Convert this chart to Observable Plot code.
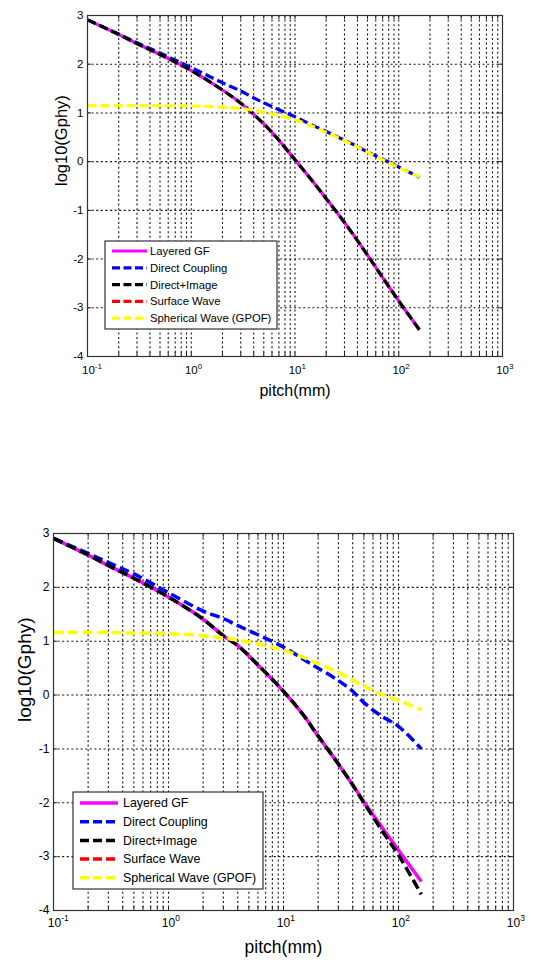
<!DOCTYPE html>
<html>
<head>
<meta charset="utf-8">
<script src="https://cdn.jsdelivr.net/npm/d3@7"></script>
<script src="https://cdn.jsdelivr.net/npm/@observablehq/plot@0.6"></script>
<style>
  html, body { margin:0; padding:0; background:#fff; }
  body { width:537px; height:960px; position:relative; overflow:hidden; font-family:"Liberation Sans", Arial, sans-serif; }
  .panel { position:absolute; left:0; }
</style>
</head>
<body>
<div id="top" class="panel" style="top:0px"></div>
<div id="bottom" class="panel" style="top:450px"></div>
<script>
// ---------------- data ----------------
const seriesNames  = ["Layered GF", "Direct Coupling", "Direct+Image", "Surface Wave", "Spherical Wave (GPOF)"];
const seriesColors = ["#ff00ff", "#0000ff", "#000000", "#ff0000", "#ffff00"];
const seriesDashed = [false, true, true, true, true];

const xTickValues    = [0.1, 1, 10, 100, 1000];
const xTickExponents = ["-1", "0", "1", "2", "3"];
const yTickValues    = [3, 2, 1, 0, -1, -2, -3, -4];

const xLabel = "pitch(mm)";
const yLabel = "log10(Gphy)";

// pitch (mm) sample points shared by all curves
const pitch = [0.1, 0.2, 0.316, 0.5, 1, 2, 3, 4, 6, 10, 15, 20, 30, 40, 50, 70, 100, 158];

// upper figure
const topLayeredGF   = [2.91, 2.61, 2.40, 2.20, 1.87, 1.47, 1.20, 0.97, 0.60, 0.04, -0.42, -0.76, -1.25, -1.62, -1.92, -2.38, -2.86, -3.45];
const topDirect      = [2.91, 2.62, 2.42, 2.23, 1.93, 1.62, 1.45, 1.31, 1.13, 0.92, 0.74, 0.62, 0.44, 0.31, 0.20, 0.05, -0.11, -0.32];
const topDirectImage = [2.91, 2.61, 2.40, 2.20, 1.87, 1.47, 1.20, 0.97, 0.60, 0.04, -0.42, -0.76, -1.25, -1.62, -1.92, -2.38, -2.86, -3.45];
const topSpherical   = [1.15, 1.15, 1.15, 1.15, 1.14, 1.12, 1.09, 1.05, 0.98, 0.86, 0.72, 0.60, 0.43, 0.30, 0.19, 0.04, -0.12, -0.31];

// lower figure
const botLayeredGF   = [2.91, 2.60, 2.38, 2.17, 1.82, 1.41, 1.10, 0.92, 0.56, 0.07, -0.38, -0.76, -1.28, -1.67, -1.98, -2.42, -2.88, -3.46];
const botDirect      = [2.91, 2.63, 2.44, 2.25, 1.90, 1.56, 1.42, 1.29, 1.12, 0.89, 0.66, 0.50, 0.27, 0.07, -0.14, -0.38, -0.58, -1.00];
const botDirectImage = [2.91, 2.60, 2.38, 2.17, 1.82, 1.41, 1.10, 0.92, 0.56, 0.07, -0.38, -0.76, -1.28, -1.67, -2.00, -2.48, -2.97, -3.70];
const botSpherical   = [1.16, 1.16, 1.16, 1.15, 1.14, 1.10, 1.06, 1.02, 0.95, 0.83, 0.70, 0.58, 0.42, 0.28, 0.17, 0.02, -0.10, -0.27];

// ---------------- drawing ----------------
const FONT = '"Liberation Sans", Arial, Helvetica, sans-serif';

const minorX = [];
for (const d of [0.1, 1, 10, 100]) for (let k = 1; k <= 9; k++) minorX.push(+(d * k).toPrecision(3));
minorX.push(1000);
const innerX = minorX.filter(v => v > 0.1 && v < 1000);
const innerY = yTickValues.filter(v => v > -4 && v < 3);

function makePanel(cfg) {
  const rows = arr => pitch.map((p, i) => ({p, v: arr[i]}));
  const innerW = cfg.width - cfg.marginLeft - cfg.marginRight;
  const innerH = cfg.height - cfg.marginTop - cfg.marginBottom;
  const tY = 4 * 7 / innerH;               // 4px inward tick, in y units
  const tX = Math.pow(10, 4 * 4 / innerW); // 4px inward tick, as log factor
  const line = (arr, i) => Plot.line(rows(arr), {
    x: "p", y: "v", stroke: seriesColors[i], strokeWidth: cfg.lw,
    strokeLinecap: "butt", strokeLinejoin: "round", curve: "catmull-rom",
    strokeDasharray: seriesDashed[i] ? cfg.dash : undefined
  });
  const grid = {stroke: "#111", strokeWidth: 1.1, strokeDasharray: "2,2.6"};
  const plot = Plot.plot({
    width: cfg.width, height: cfg.height,
    marginLeft: cfg.marginLeft, marginRight: cfg.marginRight,
    marginTop: cfg.marginTop, marginBottom: cfg.marginBottom,
    x: {type: "log", domain: [0.1, 1000]},
    y: {domain: [-4, 3]},
    style: {fontFamily: FONT, background: "#fff", color: "#000", overflow: "visible"},
    marks: [
      Plot.ruleX(innerX, grid),
      Plot.ruleY(innerY, grid),
      Plot.ruleX(minorX, {y1: -4, y2: -4 + tY, stroke: "#222"}),
      Plot.ruleX(minorX, {y1: 3, y2: 3 - tY, stroke: "#222"}),
      Plot.ruleY(yTickValues, {x1: 0.1, x2: 0.1 * tX, stroke: "#222"}),
      Plot.ruleY(yTickValues, {x1: 1000, x2: 1000 / tX, stroke: "#222"}),
      line(cfg.layered, 0),
      line(cfg.direct, 1),
      line(cfg.directImage, 2),
      line(cfg.spherical, 4),
      Plot.frame({stroke: "#333", strokeWidth: 1.2}),
      Plot.axisX(xTickValues, {
        anchor: "bottom", tickSize: 0, tickPadding: cfg.xPad, fontSize: cfg.tickFont, label: null,
        tickFormat: d => "10^" + xTickExponents[xTickValues.indexOf(d)]
      }),
      Plot.axisY(yTickValues, {
        anchor: "left", tickSize: 0, tickPadding: cfg.yPad, fontSize: cfg.tickFont, label: null,
        tickFormat: d => String(d)
      }),
      Plot.text([xLabel], {text: d => d, frameAnchor: "bottom", dy: cfg.xLabelDy, fontSize: cfg.xLabelFont, lineAnchor: "middle"}),
      Plot.text([yLabel], {text: d => d, frameAnchor: "left", dx: cfg.yLabelDx, rotate: -90, fontSize: cfg.yLabelFont, lineAnchor: "middle"})
    ]
  });

  // superscript exponents on x tick labels
  d3.select(plot).selectAll('g[aria-label="x-axis tick label"] text').each(function () {
    const t = this.textContent;
    const parts = t.split("^");
    if (parts.length < 2) return;
    const sel = d3.select(this);
    sel.text(null);
    sel.append("tspan").attr("dx", cfg.supSize * 0.28 * parts[1].length).text(parts[0]);
    sel.append("tspan").attr("dy", -cfg.supDy).attr("font-size", cfg.supSize).text(parts[1]);
  });

  // legend box
  const L = cfg.legend;
  const g = d3.select(plot).append("g")
    .attr("font-family", FONT).attr("font-size", L.font).attr("fill", "#000").attr("text-anchor", "start");
  g.append("rect").attr("x", L.x).attr("y", L.y).attr("width", L.w).attr("height", L.h)
    .attr("fill", "#fff").attr("stroke", "#333").attr("stroke-width", 1.2);
  seriesNames.forEach((name, i) => {
    const cy = L.y + L.first + i * L.step;
    g.append("line").attr("x1", L.x + L.s0).attr("x2", L.x + L.s1).attr("y1", cy).attr("y2", cy)
      .attr("stroke", seriesColors[i]).attr("stroke-width", cfg.lw)
      .attr("stroke-dasharray", seriesDashed[i] ? L.dash : null);
    g.append("text").attr("x", L.x + L.tx).attr("y", cy).attr("dy", "0.35em")
      .attr("text-anchor", "start").text(name);
  });

  document.getElementById(cfg.el).appendChild(plot);
}

makePanel({
  el: "top", width: 537, height: 410,
  marginLeft: 87, marginRight: 35, marginTop: 15, marginBottom: 54,
  layered: topLayeredGF, direct: topDirect, directImage: topDirectImage, spherical: topSpherical,
  lw: 3.2, dash: "9,4",
  tickFont: 11.5, xPad: 9, yPad: 4, supSize: 8, supDy: 5,
  xLabelFont: 16, xLabelDy: 34, yLabelFont: 16.5, yLabelDx: -26,
  legend: {x: 105, y: 241, w: 172, h: 88, first: 10, step: 16.8, s0: 7, s1: 42, tx: 45, font: 11.3, dash: "8,3.5"}
});

makePanel({
  el: "bottom", width: 537, height: 510,
  marginLeft: 53, marginRight: 24, marginTop: 83, marginBottom: 50,
  layered: botLayeredGF, direct: botDirect, directImage: botDirectImage, spherical: botSpherical,
  lw: 3.5, dash: "10,4.5",
  tickFont: 12, xPad: 7.5, yPad: 4, supSize: 8.5, supDy: 5.5,
  xLabelFont: 17.5, xLabelDy: 37, yLabelFont: 19, yLabelDx: -29,
  legend: {x: 73, y: 342, w: 190, h: 97, first: 11, step: 18.7, s0: 7, s1: 45, tx: 50, font: 12.4, dash: "9,4"}
});
</script>
</body>
</html>
